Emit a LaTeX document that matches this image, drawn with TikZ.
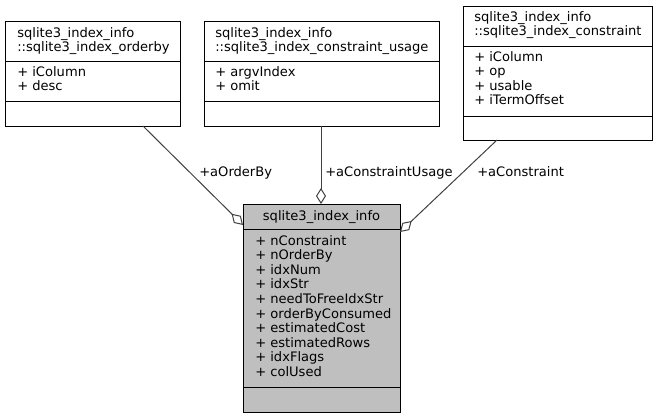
\documentclass[tikz,border=0pt]{standalone}
\usepackage{fontspec}
\setmainfont{DejaVu Sans}
\usetikzlibrary{calc,arrows.meta}

\begin{document}
\begin{tikzpicture}[x=0.75pt,y=-0.75pt,
	umlbox/.style={draw=black,line width=0.75pt,anchor=north west,inner sep=0pt,outer sep=0pt},
	umltxt/.style={anchor=base west,inner sep=0pt,font=\fontsize{9.8}{12}\selectfont},
	edge/.style={draw=black!75,line width=0.75pt},
	agg/.style={edge,{Diamond[open,length=12pt,width=7.5pt,line width=0.75pt]}-}]
	\def\pxl{0.75pt}
	\def\ls{14.5}
	\useasboundingbox (0,0) rectangle (658,419);
	
	% class boxes
	\node[umlbox,minimum width=175*\pxl,minimum height=105*\pxl] (orderby) at (5,21) {};
	\node[umlbox,minimum width=235*\pxl,minimum height=105*\pxl] (usage) at (204,21) {};
	\node[umlbox,minimum width=189*\pxl,minimum height=134*\pxl] (constraint) at (463,6) {};
	\node[umlbox,fill=black!25,minimum width=157*\pxl,minimum height=208*\pxl] (info) at (243,204) {};
	
	\draw[line width=0.75pt] (orderby.west |- 0,61) -- (orderby.east |- 0,61);
	\draw[line width=0.75pt] (orderby.west |- 0,101) -- (orderby.east |- 0,101);
	\draw[line width=0.75pt] (usage.west |- 0,61) -- (usage.east |- 0,61);
	\draw[line width=0.75pt] (usage.west |- 0,101) -- (usage.east |- 0,101);
	\draw[line width=0.75pt] (constraint.west |- 0,46) -- (constraint.east |- 0,46);
	\draw[line width=0.75pt] (constraint.west |- 0,116) -- (constraint.east |- 0,116);
	\draw[line width=0.75pt] (info.west |- 0,229) -- (info.east |- 0,229);
	\draw[line width=0.75pt] (info.west |- 0,387) -- (info.east |- 0,387);
	
	% texts
	\node[umltxt] (orderby-t1) at (17,37) {sqlite3\_index\_info};
	\node[umltxt] (orderby-t2) at (17,37+\ls) {::sqlite3\_index\_orderby};
	\node[umltxt] (orderby-a1) at (17,76) {+ iColumn};
	\node[umltxt] (orderby-a2) at (17,76+\ls) {+ desc};
	
	\node[umltxt] (usage-t1) at (215,37) {sqlite3\_index\_info};
	\node[umltxt] (usage-t2) at (215,37+\ls) {::sqlite3\_index\_constraint\_usage};
	\node[umltxt] (usage-a1) at (215,76) {+ argvIndex};
	\node[umltxt] (usage-a2) at (215,76+\ls) {+ omit};
	
	\node[umltxt] (constraint-t1) at (474,21) {sqlite3\_index\_info};
	\node[umltxt] (constraint-t2) at (474,21+\ls) {::sqlite3\_index\_constraint};
	\foreach \t [count=\i] in {iColumn,op,usable,iTermOffset}
		\node[umltxt] (constraint-a\i) at (474,61+\ls*\i-\ls) {+ \t};
	
	\node[umltxt,anchor=base] (info-t) at (321.5,220) {sqlite3\_index\_info};
	\foreach \t [count=\i] in {nConstraint,nOrderBy,idxNum,idxStr,needToFreeIdxStr,
		orderByConsumed,estimatedCost,estimatedRows,idxFlags,colUsed}
		\node[umltxt] (info-a\i) at (255,245+14.6*\i-14.6) {+ \t};
	
	% aggregations
	\draw[agg] ($(info.north west)+(0,21)$) -- ($(orderby.south west)+(138,0)$);
	\draw[agg] ($(info.north west)+(78,0)$) -- ($(usage.south west)+(117,0)$);
	\draw[agg] ($(info.north east)+(0,28)$) -- ($(constraint.south west)+(34,0)$);
	
	\node[umltxt] (l-orderby) at (199,176) {+aOrderBy};
	\node[umltxt] (l-usage) at (325,176) {+aConstraintUsage};
	\node[umltxt] (l-constraint) at (477,176) {+aConstraint};
\end{tikzpicture}
\end{document}
